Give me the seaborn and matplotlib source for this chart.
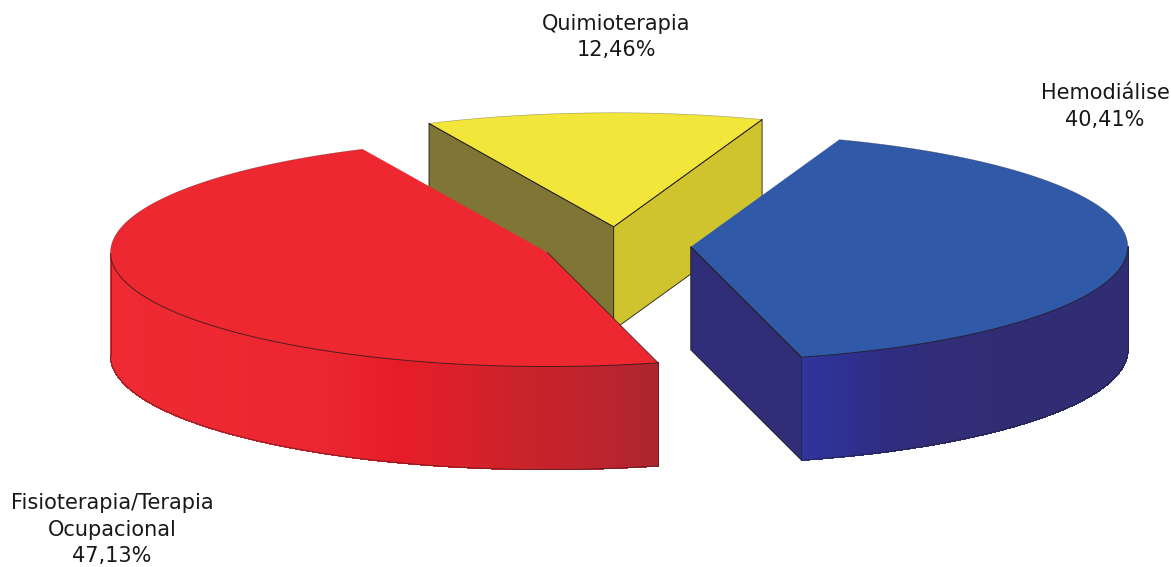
import numpy as np
import matplotlib
matplotlib.use("Agg")
import matplotlib.pyplot as plt
from matplotlib.colors import to_rgb
from matplotlib.patches import Polygon
import seaborn as sns

# Data (counter-clockwise, as on the pie)
categories = ["Fisioterapia/Terapia\nOcupacional", "Hemodiálise", "Quimioterapia"]
percent = [47.13, 40.41, 12.46]
percent_labels = ["47,13%", "40,41%", "12,46%"]

# Style
top_colors = ["#EE2831", "#3059A8", "#F2E63A"]
wall_start_colors = [None, "#302E78", "#CFC42D"]  # flat wall at the slice's first edge
wall_end_colors = [None, None, "#7F7535"]         # flat wall at the slice's last edge
side_stops = [
    ([111, 330, 400, 470, 530, 600, 657],
     ["#EE2A33", "#EC2630", "#E61D29", "#D8212A", "#C8232B", "#BC242D", "#AE2530"]),
    ([801, 830, 880, 940, 1128], ["#30359C", "#2F3296", "#2F2D84", "#312D76", "#312D74"]),
    ([400, 800], ["#CFC42D", "#CFC42D"]),
]
edge_color = "#1E1A1A"
CX, CY, RX, RY, DEPTH, EXPLODE = 617, 246, 437, 114, 103, 0.169
START_ANGLE = 115.0   # first slice starts here and runs counter-clockwise
label_pos = [(112, 529.5), (1105, 106.5), (616, 37)]

sns.set_theme(style="white")
plt.rcParams["font.family"] = ["DejaVu Sans"]

fig = plt.figure(figsize=(11.71, 5.67), dpi=100)
ax = fig.add_axes([0, 0, 1, 1])
ax.set_xlim(0, 1171)
ax.set_ylim(567, 0)
ax.axis("off")

sweeps = np.array(percent) / sum(percent) * 360
starts = START_ANGLE + np.concatenate([[0], np.cumsum(sweeps)[:-1]])


def rim(cx, cy, deg):
    t = np.radians(deg)
    return np.column_stack([cx + RX * np.cos(t), cy - RY * np.sin(t)])


def shade(stops, x):
    xs, cols = stops
    rgb = np.array([to_rgb(c) for c in cols])
    return tuple(np.interp(x, xs, rgb[:, i]) for i in range(3))


def draw_slice(i, z):
    a0, sw = starts[i], sweeps[i]
    mid = np.radians(a0 + sw / 2)
    cx = CX + EXPLODE * RX * np.cos(mid)
    cy = CY - EXPLODE * RY * np.sin(mid)
    apex = np.array([cx, cy])
    deg = np.linspace(a0, a0 + sw, 300)
    arc = rim(cx, cy, deg)
    down = np.array([0, DEPTH])
    p0, p1 = arc[0], arc[-1]

    # flat cut walls
    for col, p in ((wall_end_colors[i], p1), (wall_start_colors[i], p0)):
        if col is not None:
            ax.add_patch(Polygon([apex, p, p + down, apex + down], closed=True, fc=col,
                                 ec=edge_color, lw=0.6, zorder=z))

    # curved outer wall, in thin strips shaded along x
    front_mask = np.sin(np.radians(deg)) < 0.0
    for a, b, vis in zip(deg[:-1], deg[1:], front_mask[:-1]):
        if not vis:
            continue
        q = rim(cx, cy, np.array([a, b]))
        col = shade(side_stops[i], q[:, 0].mean())
        ax.add_patch(Polygon([q[0], q[1], q[1] + down, q[0] + down], closed=True, fc=col, ec=col,
                             lw=0.6, antialiased=False, zorder=z + 0.1))

    # rim outlines
    front = arc[front_mask]
    if len(front):
        ax.plot(front[:, 0], front[:, 1] + DEPTH, color=edge_color, lw=0.5, alpha=0.7, zorder=z + 0.2)
        for end in (front[0], front[-1]):
            ax.plot([end[0], end[0]], [end[1], end[1] + DEPTH], color=edge_color, lw=0.5, alpha=0.7,
                    zorder=z + 0.2)

    # top face
    ax.add_patch(Polygon(np.vstack([apex, arc]), closed=True, fc=top_colors[i], ec="none", zorder=z + 0.4))
    if len(front):
        ax.plot(front[:, 0], front[:, 1], color=edge_color, lw=0.7, alpha=0.75, zorder=z + 0.5)
    back = arc[~front_mask]
    ax.plot(back[:, 0], back[:, 1], color=edge_color, lw=0.4, alpha=0.4, zorder=z + 0.5)
    if wall_start_colors[i] is not None:
        ax.plot(*zip(apex, p0), color=edge_color, lw=0.7, zorder=z + 0.5)
    if wall_end_colors[i] is not None:
        ax.plot(*zip(apex, p1), color=edge_color, lw=0.7, zorder=z + 0.5)
    if i == 0:
        ax.plot(*zip(apex, p1), color=edge_color, lw=0.6, alpha=0.8, zorder=z + 0.5)


draw_slice(2, 1)
draw_slice(0, 2)
draw_slice(1, 3)

for name, pct, (x, y) in zip(categories, percent_labels, label_pos):
    ax.text(x, y, f"{name}\n{pct}", ha="center", va="center", fontsize=15, color="#1A1718",
            linespacing=1.38)

fig.savefig("out.png", dpi=100, facecolor="white")
